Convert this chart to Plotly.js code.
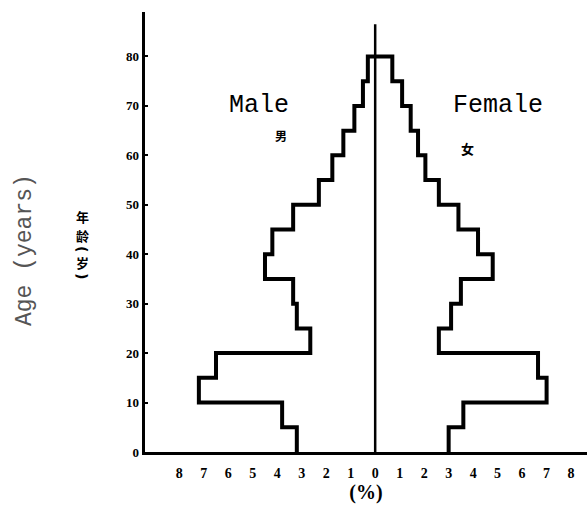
<!DOCTYPE html>
<html><head><meta charset="utf-8">
<script src="https://cdn.plot.ly/plotly-3.0.1.min.js"></script>
<style>body{margin:0;background:#fff}#c{width:587px;height:517px}</style>
</head><body><div id="c"></div>
<script>
var ageStarts = [0,5,10,15,20,25,30,35,40,45,50,55,60,65,70,75];
var male   = [3.2,3.8,7.2,6.5,2.65,3.2,3.35,4.5,4.2,3.35,2.3,1.75,1.3,0.85,0.5,0.3];
var female = [3.0,3.6,7.0,6.65,2.6,3.1,3.5,4.8,4.2,3.4,2.6,2.05,1.75,1.45,1.1,0.7];
var xTickVals = [-8,-7,-6,-5,-4,-3,-2,-1,0,1,2,3,4,5,6,7,8];
var xTickText = ['8','7','6','5','4','3','2','1','0','1','2','3','4','5','6','7','8'];
var yTickVals = [0,10,20,30,40,50,60,70,80];

var topAge = 80;
var maleTrace = {
  x: male.map(function(v){return -v;}).concat([0]),
  y: ageStarts.concat([topAge]),
  mode:'lines', line:{shape:'vh', color:'#000', width:4}, hoverinfo:'none'
};
var femaleTrace = {
  x: female.concat([0]),
  y: ageStarts.concat([topAge]),
  mode:'lines', line:{shape:'vh', color:'#000', width:4}, hoverinfo:'none'
};
var centerLine = {
  x:[0,0], y:[0,86.5], mode:'lines', line:{color:'#000', width:2.5}, hoverinfo:'none'
};

var L = 145, T = 12, W = 442, H = 440;
function px(x){return (x-L)/W;}
function py(y){return 1-(y-T)/H;}
function ann(text, x, y, font, extra){
  var a = {text:text, xref:'paper', yref:'paper', x:px(x), y:py(y), xanchor:'center', yanchor:'middle',
           showarrow:false, font:font};
  if (extra) for (var k in extra) a[k]=extra[k];
  return a;
}
var cjk = {family:'Noto Sans CJK SC', size:13, color:'#000', weight:'bold'};
var paren = {family:'DejaVu Sans', size:14, color:'#000', weight:'bold'};

var layout = {
  width:587, height:517, showlegend:false,
  paper_bgcolor:'#fff', plot_bgcolor:'#fff',
  margin:{l:145, r:0, t:12, b:65},
  font:{family:'Liberation Serif', color:'#000'},
  xaxis:{range:[-9.4,8.65], tickvals:xTickVals, ticktext:xTickText, showgrid:false, zeroline:false,
         showline:true, linecolor:'#000', linewidth:3, ticks:'outside', ticklen:6, tickcolor:'rgba(0,0,0,0)',
         tickfont:{size:14, family:'Liberation Serif', weight:'bold'},
         title:{text:'(%)', font:{size:20, family:'Liberation Serif', weight:'bold'}, standoff:6}},
  yaxis:{range:[0,89], tickvals:yTickVals, showgrid:false, zeroline:false,
         showline:true, linecolor:'#000', linewidth:3.5, ticks:'inside', ticklen:3, tickwidth:2, tickcolor:'#000',
         tickfont:{size:13, family:'Liberation Serif', weight:'bold'}},
  annotations:[
    ann('Male', 259, 105, {family:'Liberation Mono', size:25, color:'#000'}),
    ann('Female', 498, 105, {family:'Liberation Mono', size:25, color:'#000'}),
    ann('男', 281, 136, {family:'Noto Sans CJK SC', size:12, color:'#000', weight:'bold'}),
    ann('女', 467, 149, {family:'Noto Sans CJK SC', size:13, color:'#000', weight:'bold'}),
    ann('Age (years)', 25, 250, {family:'Liberation Mono', size:23, color:'#555'}, {textangle:-90}),
    ann('年', 82, 216, cjk),
    ann('龄', 82, 235, cjk),
    ann('(', 82, 249, paren, {textangle:90}),
    ann('岁', 82, 262, cjk),
    ann(')', 82, 276, paren, {textangle:90})
  ]
};
Plotly.newPlot('c',[maleTrace,femaleTrace,centerLine],layout,{staticPlot:true});
</script></body></html>
